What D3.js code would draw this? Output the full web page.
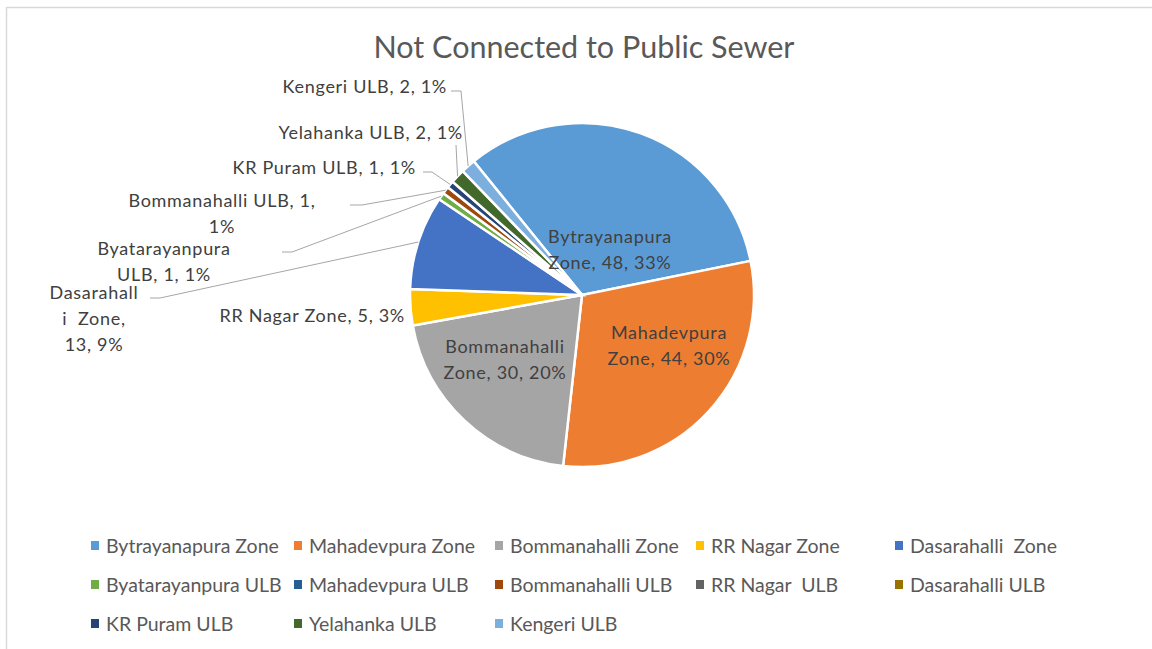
<!DOCTYPE html>
<html>
<head>
    <meta charset="utf-8">
    <title>Not Connected to Public Sewer</title>
    <script src="https://cdn.jsdelivr.net/npm/d3@7"></script>
</head>

<style>
    body{
        margin:0;
        background-color: #ffffff;
        font-family: 'Lato', sans-serif;
    }
    text {
        white-space: pre;
    }
</style>

<body>
    <div id="chart"></div>
</body>

<script>

    // data
    var categories = ["Bytrayanapura Zone", "Mahadevpura Zone", "Bommanahalli Zone", "RR Nagar Zone", "Dasarahalli  Zone",
        "Byatarayanpura ULB", "Mahadevpura ULB", "Bommanahalli ULB", "RR Nagar  ULB", "Dasarahalli ULB",
        "KR Puram ULB", "Yelahanka ULB", "Kengeri ULB"];
    var values = [48, 44, 30, 5, 13, 1, 0, 1, 0, 0, 1, 2, 2];
    var colors = ["#5B9BD5", "#ED7D31", "#A5A5A5", "#FFC000", "#4472C4", "#70AD47", "#255E91",
        "#9E480E", "#636363", "#997300", "#264478", "#43682B", "#7CAFDD"];

    // text of each data label, split in lines (null = no label)
    var labelLines = [
        ["Bytrayanapura", "Zone, 48, 33%"],
        ["Mahadevpura", "Zone, 44, 30%"],
        ["Bommanahalli", "Zone, 30, 20%"],
        ["RR Nagar Zone, 5, 3%"],
        ["Dasarahall", "i  Zone,", "13, 9%"],
        ["Byatarayanpura", "ULB, 1, 1%"],
        null,
        ["Bommanahalli ULB, 1,", "1%"],
        null, null,
        ["KR Puram ULB, 1, 1%"],
        ["Yelahanka ULB, 2, 1%"],
        ["Kengeri ULB, 2, 1%"]
    ];

    var width = 1152, height = 649;
    var cx = 582, cy = 295, radius = 172;
    var startAngle = -39 * Math.PI / 180;

    var svg = d3.select("#chart").append("svg")
        .attr("width", width)
        .attr("height", height);

    // chart border
    svg.append("rect")
        .attr("x", 6.5).attr("y", 7.5)
        .attr("width", 1200).attr("height", 700)
        .attr("fill", "none")
        .attr("stroke", "#d9d9d9")
        .attr("stroke-width", 1.5);

    // title
    svg.append("text")
        .attr("x", 584)
        .attr("y", 58)
        .attr("text-anchor", "middle")
        .style("font-size", "30.5px")
        .style("fill", "#595959")
        .text("Not Connected to Public Sewer");

    var pie = d3.pie()
        .sort(null)
        .value(function(d) { return d; })
        .startAngle(startAngle)
        .endAngle(startAngle + 2 * Math.PI);

    var arc = d3.arc().innerRadius(0).outerRadius(radius);
    var arcs = pie(values);

    var g = svg.append("g")
        .attr("transform", "translate(" + cx + "," + cy + ")");

    g.selectAll(".slice")
        .data(arcs)
        .enter().append("path")
        .attr("class", "slice")
        .attr("d", arc)
        .style("fill", function(d, i) { return colors[i]; })
        .style("stroke", "#ffffff")
        .style("stroke-width", function(d) { return d.value > 0 ? 2.5 : 0; });

    // label placement (layout only): x, y of first line, anchor, leader start and elbow
    var labelLayout = [
        {x: 610, y: 243, anchor: "middle"},
        {x: 669, y: 339, anchor: "middle"},
        {x: 505, y: 353, anchor: "middle"},
        {x: 405, y: 322, anchor: "end"},
        {x: 94, y: 299, anchor: "middle", lx: 150, ly: 298, ex: 160},
        {x: 164, y: 255, anchor: "middle", lx: 282, ly: 252, ex: 292},
        null,
        {x: 222, y: 207, anchor: "middle", lx: 350, ly: 205, ex: 362},
        null, null,
        {x: 416, y: 174, anchor: "end", lx: 423, ly: 172, ex: 432},
        {x: 463, y: 139, anchor: "end", lx: 456, ly: 145, ex: 456},
        {x: 447, y: 93, anchor: "end", lx: 451, ly: 91, ex: 461}
    ];

    var lineH = 26;
    var labels = svg.append("g");

    arcs.forEach(function(a, i) {
        var lay = labelLayout[i];
        if (!lay || !labelLines[i]) return;

        if (lay.lx !== undefined) {
            var mid = (a.startAngle + a.endAngle) / 2;
            var px = cx + Math.sin(mid) * radius;
            var py = cy - Math.cos(mid) * radius;
            var pts = [[lay.lx, lay.ly], [lay.ex, lay.ly], [px, py]];
            labels.append("path")
                .attr("d", d3.line()(pts))
                .attr("fill", "none")
                .attr("stroke", "#a6a6a6")
                .attr("stroke-width", 1);
        }

        var t = labels.append("text")
            .attr("text-anchor", lay.anchor)
            .style("font-size", "18px")
            .style("letter-spacing", "0.7px")
            .style("fill", "#404040");
        labelLines[i].forEach(function(s, k) {
            t.append("tspan")
                .attr("x", lay.x)
                .attr("y", lay.y + k * lineH)
                .text(s);
        });
    });

    // legend
    var legendCols = [93, 296, 497, 698, 897];
    var legendRows = [546, 585, 624];

    var legend = svg.selectAll(".legend")
        .data(categories)
        .enter().append("g")
        .attr("class", "legend")
        .attr("transform", function(d, i) {
            return "translate(" + legendCols[i % 5] + "," + legendRows[Math.floor(i / 5)] + ")";
        });

    legend.append("rect")
        .attr("x", -2)
        .attr("y", -5)
        .attr("width", 8)
        .attr("height", 9)
        .style("fill", function(d, i) { return colors[i]; });

    legend.append("text")
        .attr("x", 13)
        .attr("y", 7)
        .style("font-size", "19.5px")
        .style("fill", "#595959")
        .text(function(d) { return d; });

</script>

</html>
